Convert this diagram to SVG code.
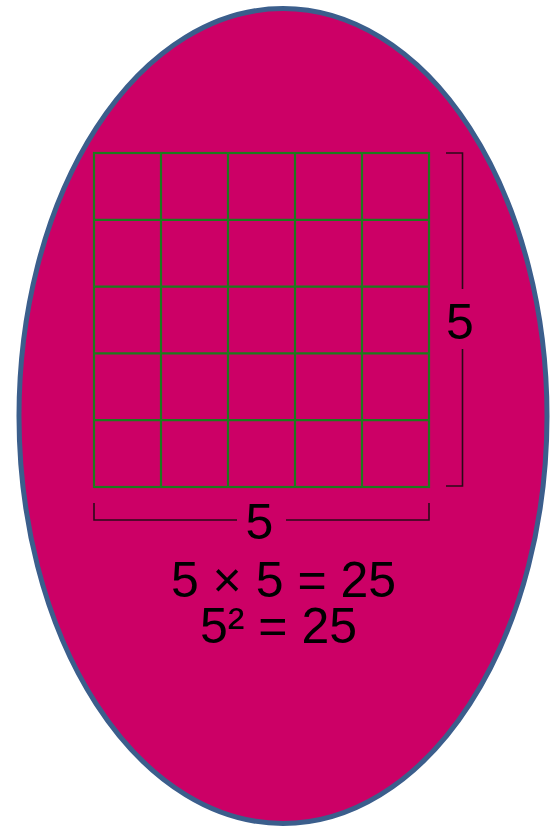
<svg xmlns="http://www.w3.org/2000/svg" width="557" height="829" viewBox="0 0 557 829">
<style>
.grid{fill:none;stroke:#1d7a1d;stroke-width:2.2}
.br{fill:none;stroke:#2a0a18;stroke-width:1.6}
.t{font-family:"Liberation Sans",Arial,sans-serif;fill:#000;text-anchor:middle;font-size:50px}
</style>
<rect width="557" height="829" fill="#fff"/>
<g id="oval"><ellipse cx="283" cy="416" rx="264" ry="407.5" fill="#cc0066" stroke="#3b5e8c" stroke-width="5"/></g>
<g id="grid">
<rect class="grid" x="94" y="153" width="335" height="334"/>
<path class="grid" d="M161 153V487M228 153V487M295 153V487M362 153V487M94 219.8H429M94 286.6H429M94 353.4H429M94 420.2H429"/>
</g>
<g id="connectors">
<path class="br" d="M446 153H462.5V289M462.5 349V486H446"/>
<path class="br" d="M94 503V520H237M286 520H429V503"/>
</g>
<g id="labels">
<text class="t" x="460" y="339">5</text>
<text class="t" x="259.5" y="539">5</text>
<text class="t" x="283.5" y="597">5 × 5 = 25</text>
<text class="t" x="278.5" y="643">5² = 25</text>
</g>
</svg>
